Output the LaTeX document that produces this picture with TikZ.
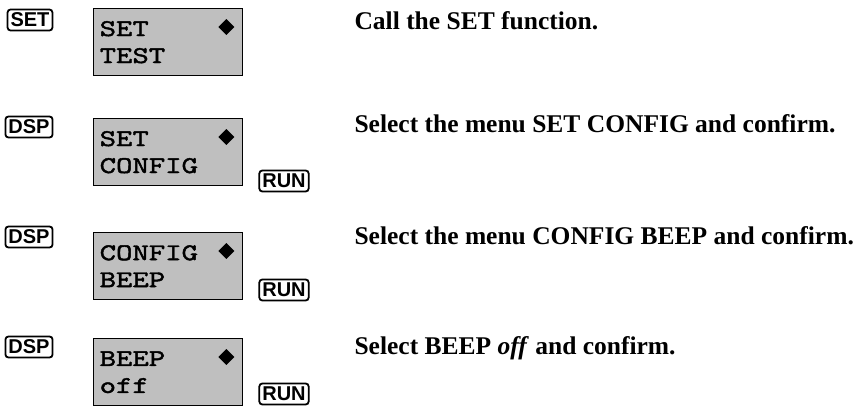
\documentclass[tikz,border=0pt]{standalone}
\usepackage{fontspec}
\setmainfont{Liberation Serif}
\setsansfont{Liberation Sans}
\newfontfamily\lcdfont{lmmono10-regular.otf}[FakeStretch=1.3,FakeBold=1.8]
\usepackage{tikz}
\usetikzlibrary{shapes.geometric, calc, positioning}

\begin{document}
\begin{tikzpicture}[
    x=1pt, y=-1pt,
    key/.style={rectangle, rounded corners=3pt, draw, line width=1.8pt, inner xsep=3pt, inner ysep=0pt, minimum height=21pt, font=\sffamily\bfseries\fontsize{20}{20}\selectfont},
    lcd/.style={rectangle, draw, line width=1.4pt, fill=black!25, anchor=north west, minimum width=149pt, minimum height=67pt, text width=137pt, inner xsep=6pt, align=left, font=\lcdfont\fontsize{24}{27}\selectfont},
    diamondmark/.style={diamond, fill=black, inner sep=0pt, minimum size=16pt},
    note/.style={anchor=base west, font=\bfseries\fontsize{25.5}{30}\selectfont}
]
\useasboundingbox (0,0) rectangle (865,406);

% Keys pressed
\node[key] (keyset) at (30,20) {SET};
\node[key] (dspB) at (29,127) {DSP};
\node[key] (dspC) at (29,237) {DSP};
\node[key] (dspD) at (29,347) {DSP};
\node[key] (runB) at (284,181) {RUN};
\node[key] (runC) at (284,290) {RUN};
\node[key] (runD) at (284,394) {RUN};

% Displays
\node[lcd] (lcdA) at (93,8) {SET\\TEST};
\node[lcd] (lcdB) at (93,118) {SET\\CONFIG};
\node[lcd] (lcdC) at (93,232) {CONFIG\\BEEP};
\node[lcd] (lcdD) at (93,338) {BEEP\\off};
\node[diamondmark] (gemA) at ($(lcdA.north east)+(-17,19)$) {};
\node[diamondmark] (gemB) at ($(lcdB.north east)+(-17,19)$) {};
\node[diamondmark] (gemC) at ($(lcdC.north east)+(-17,19)$) {};
\node[diamondmark] (gemD) at ($(lcdD.north east)+(-17,19)$) {};

% Explanations
\node[note] (txtA) at (351,30) {Call the SET function.};
\node[note] (txtB) at (351,133) {Select the menu SET CONFIG and confirm.};
\node[note] (txtC) at (351,245) {Select the menu CONFIG BEEP and confirm.};
\node[note] (txtD) at (351,354) {Select BEEP \textit{off} and confirm.};
\end{tikzpicture}
\end{document}
